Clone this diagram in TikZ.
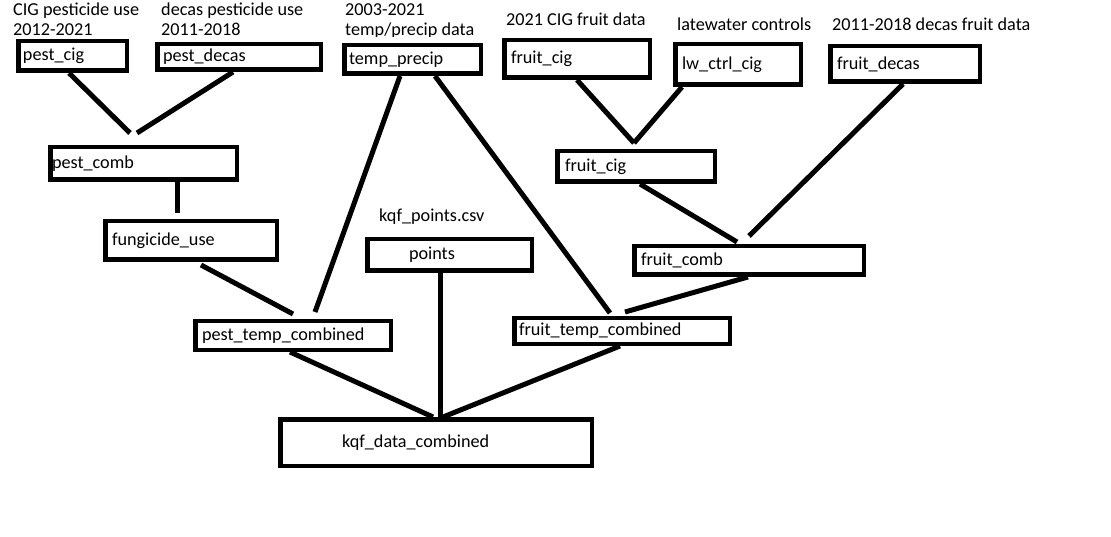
\documentclass[tikz,border=0pt]{standalone}
\usepackage{fontspec}
\setmainfont{Carlito}
\begin{document}
\begin{tikzpicture}[x=1pt,y=-1pt,
  box/.style={draw, line width=4.5pt, align=left, inner ysep=0pt, font=\fontsize{18.2}{20}\selectfont},
  link/.style={line width=5pt},
  note/.style={anchor=base west, align=left, inner sep=0pt, font=\fontsize{18.2}{20}\selectfont}]
\path[use as bounding box, fill=white] (0,0) rectangle (1111,537);
% source notes
\node[note] (lcigpest) at (13,36) {CIG pesticide use\\2012-2021};
\node[note] (ldecaspest) at (161,36) {decas pesticide use\\2011-2018};
\begin{scope}
\clip (330,0) rectangle (495,37);
\node[note] (ltemp) at (345,36) {2003-2021\\temp/precip data};
\end{scope}
\node[note] (lcigfruit) at (506,26) {2021 CIG fruit data};
\node[note] (llw) at (677,31) {latewater controls};
\node[note] (ldecasfruit) at (832,31) {2011-2018 decas fruit data};
\node[note] (lpoints) at (379,222) {kqf\_points.csv};
% tables
\node[box, minimum width=108.5pt, minimum height=29.5pt, text width=99pt, inner xsep=4.75pt] (pestcig) at (72.5,56) {pest\_cig};
\node[box, minimum width=163.5pt, minimum height=25.5pt, text width=152pt, inner xsep=5.75pt] (pestdecas) at (239,57) {pest\_decas};
\node[box, minimum width=136.5pt, minimum height=28.5pt, text width=127pt, inner xsep=4.75pt] (tempprecip) at (412.5,59.5) {temp\_precip};
\node[box, minimum width=145.5pt, minimum height=37.5pt, text width=132pt, inner xsep=6.75pt] (fruitcig) at (577,59) {fruit\_cig};
\node[box, minimum width=125.5pt, minimum height=40.5pt, text width=112pt, inner xsep=6.75pt] (lwctrl) at (738,64.5) {lw\_ctrl\_cig};
\node[box, minimum width=149.5pt, minimum height=35.5pt, text width=136pt, inner xsep=6.75pt] (fruitdecas) at (905,64) {fruit\_decas};
\node[box, minimum width=186.5pt, minimum height=32.5pt, text width=183pt, inner xsep=1.75pt] (pestcomb) at (143.5,163.5) {pest\_comb};
\node[box, minimum width=157.5pt, minimum height=30.5pt, text width=142pt, inner xsep=7.75pt] (fruitcigb) at (636,166.5) {fruit\_cig};
\node[box, minimum width=171.5pt, minimum height=38.5pt, text width=158pt, inner xsep=6.75pt] (fungicide) at (191,240.5) {fungicide\_use};
\node[box, minimum width=164.5pt, minimum height=31.5pt, text width=81pt, inner xsep=41.75pt] (points) at (449.5,255) {points};
\node[box, minimum width=229.5pt, minimum height=28.5pt, text width=216pt, inner xsep=6.75pt] (fruitcomb) at (749,260.5) {fruit\_comb};
\node[box, minimum width=195.5pt, minimum height=28.5pt, text width=182pt, inner xsep=6.75pt] (pesttemp) at (293,335.5) {pest\_temp\_combined};
\node[box, minimum width=215.5pt, minimum height=25.5pt, text width=206pt, inner xsep=4.75pt] (fruittemp) at (622,331) {fruit\_temp\_combined};
\node[box, minimum width=311.5pt, minimum height=46.5pt, text width=188pt, inner xsep=61.75pt] (kqf) at (436,442.5) {kqf\_data\_combined};
% joins
\draw[link] ([xshift=-3.5pt]pestcig.south) -- ([xshift=-13.5pt,yshift=12pt]pestcomb.north);
\draw[link] ([xshift=-6pt]pestdecas.south) -- ([xshift=-6.5pt,yshift=12pt]pestcomb.north);
\draw[link] ([xshift=33.5pt]pestcomb.south) -- ([xshift=-14pt,yshift=6pt]fungicide.north);
\draw[link] ([xshift=10pt,yshift=-3pt]fungicide.south) -- ([yshift=5pt]pesttemp.north);
\draw[link] ([xshift=-12.5pt]tempprecip.south) -- ([xshift=22pt,yshift=7pt]pesttemp.north);
\draw[link] ([xshift=22.5pt]tempprecip.south) -- ([xshift=-12pt,yshift=3pt]fruittemp.north);
\draw[link] ([xshift=-9.5pt]points.south) -- ([xshift=4pt]kqf.north);
\draw[link] ([xshift=-3pt]pesttemp.south) -- ([xshift=-3pt]kqf.north);
\draw[link] ([xshift=-2pt]fruittemp.south) -- ([xshift=7pt]kqf.north);
\draw[link] (fruitcig.south) -- ([xshift=-2pt,yshift=6pt]fruitcigb.north);
\draw[link] ([xshift=-56pt]lwctrl.south) -- ([xshift=-2pt,yshift=6pt]fruitcigb.north);
\draw[link] ([xshift=4pt]fruitcigb.south) -- ([xshift=-12pt,yshift=2pt]fruitcomb.north);
\draw[link] ([xshift=-2pt]fruitdecas.south) -- ([yshift=8pt]fruitcomb.north);
\draw[link] ([xshift=-1pt]fruitcomb.south) -- ([xshift=3pt,yshift=4pt]fruittemp.north);
\end{tikzpicture}
\end{document}
